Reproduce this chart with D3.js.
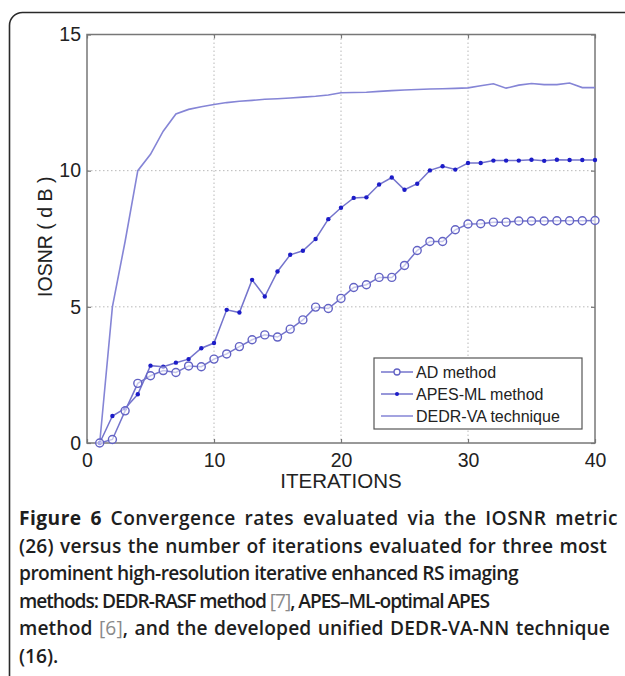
<!DOCTYPE html>
<html>
<head>
<meta charset="utf-8">
<script src="https://cdn.jsdelivr.net/npm/d3@7"></script>
<style>
  body { margin: 0; background: #fff; }
  svg { display: block; }
</style>
</head>
<body>
<div id="chart"></div>
<script>
// Iterations and IOSNR values (dB)
const iterations = [1, 2, 3, 4, 5, 6, 7, 8, 9, 10, 11, 12, 13, 14, 15, 16, 17, 18, 19, 20,
  21, 22, 23, 24, 25, 26, 27, 28, 29, 30, 31, 32, 33, 34, 35, 36, 37, 38, 39, 40];
const adValues = [0.0, 0.13, 1.18, 2.19, 2.47, 2.66, 2.59, 2.83, 2.80, 3.08, 3.27, 3.54, 3.79, 3.97, 3.89, 4.18, 4.52, 4.99, 4.94, 5.31,
  5.71, 5.81, 6.08, 6.08, 6.52, 7.07, 7.40, 7.40, 7.83, 8.04, 8.05, 8.11, 8.11, 8.15, 8.15, 8.15, 8.16, 8.16, 8.16, 8.17];
const apesValues = [0.0, 0.99, 1.27, 1.79, 2.84, 2.80, 2.95, 3.08, 3.48, 3.67, 4.89, 4.79, 5.99, 5.38, 6.30, 6.91, 7.06, 7.49, 8.22, 8.64,
  9.00, 9.02, 9.49, 9.75, 9.30, 9.52, 10.01, 10.16, 10.04, 10.28, 10.28, 10.37, 10.37, 10.37, 10.40, 10.36, 10.40, 10.39, 10.39, 10.39];
const dedrValues = [0.0, 5.0, 7.4, 10.0, 10.6, 11.45, 12.08, 12.25, 12.35, 12.43, 12.5, 12.55, 12.58, 12.62, 12.64, 12.67, 12.7, 12.73, 12.78, 12.86,
  12.87, 12.88, 12.91, 12.94, 12.96, 12.98, 13.0, 13.01, 13.02, 13.04, 13.12, 13.19, 13.03, 13.14, 13.2, 13.16, 13.16, 13.22, 13.05, 13.05];
const seriesNames = ["AD method", "APES-ML method", "DEDR-VA technique"];
const xTicks = [0, 10, 20, 30, 40];
const yTicks = [0, 5, 10, 15];

const width = 625, height = 676;
const margin = {top: 34.5, right: 30, bottom: 233, left: 87};
const plotW = width - margin.left - margin.right;
const plotH = height - margin.top - margin.bottom;

const svg = d3.select("#chart").append("svg")
  .attr("width", width)
  .attr("height", height);

// outer frame of the figure
svg.append("rect")
  .attr("x", 9.5).attr("y", 12.5)
  .attr("width", 640).attr("height", 676)
  .attr("rx", 13)
  .attr("fill", "none")
  .attr("stroke", "#2a2a2a")
  .attr("stroke-width", 1.6);

const g = svg.append("g")
  .attr("transform", "translate(" + margin.left + "," + margin.top + ")");

const x = d3.scaleLinear().domain([0, 40]).range([0, plotW]);
const y = d3.scaleLinear().domain([0, 15]).range([plotH, 0]);

// dotted grid
g.append("g").selectAll("line")
  .data(xTicks.slice(1, -1)).enter().append("line")
  .attr("x1", d => x(d)).attr("x2", d => x(d))
  .attr("y1", 0).attr("y2", plotH)
  .attr("stroke", "#b8b8b8").attr("stroke-dasharray", "1.5,2.5");
g.append("g").selectAll("line")
  .data(yTicks.slice(1, -1)).enter().append("line")
  .attr("y1", d => y(d)).attr("y2", d => y(d))
  .attr("x1", 0).attr("x2", plotW)
  .attr("stroke", "#b8b8b8").attr("stroke-dasharray", "1.5,2.5");

// axes (inward ticks, box around the plot)
const axisColor = "#777";
const xAxis = d3.axisBottom(x).tickValues(xTicks).tickSize(-4).tickPadding(10);
const yAxis = d3.axisLeft(y).tickValues(yTicks).tickSize(-4).tickPadding(6);

g.append("g")
  .attr("transform", "translate(0," + plotH + ")")
  .call(xAxis)
  .call(a => a.select(".domain").remove());
g.append("g")
  .call(yAxis)
  .call(a => a.select(".domain").remove());
g.append("g").call(d3.axisTop(x).tickValues(xTicks).tickSize(-4).tickFormat(""))
  .call(a => a.select(".domain").remove());
g.append("g").attr("transform", "translate(" + plotW + ",0)")
  .call(d3.axisRight(y).tickValues(yTicks).tickSize(-4).tickFormat(""))
  .call(a => a.select(".domain").remove());

g.selectAll(".tick line").attr("stroke", axisColor).attr("stroke-width", 1.2);
g.selectAll(".tick text")
  .attr("fill", "#222")
  .style("font-family", "'Liberation Sans', Arial, sans-serif")
  .style("font-size", "19.5px");

g.append("rect")
  .attr("width", plotW).attr("height", plotH)
  .attr("fill", "none")
  .attr("stroke", axisColor)
  .attr("stroke-width", 1.5);

// axis titles
g.append("text")
  .attr("x", plotW / 2).attr("y", plotH + 45)
  .attr("text-anchor", "middle")
  .attr("fill", "#222")
  .style("font-family", "'Liberation Sans', Arial, sans-serif")
  .style("font-size", "20.5px")
  .text("ITERATIONS");
g.append("text")
  .attr("transform", "translate(-35," + (plotH / 2 - 2) + ") rotate(-90)")
  .attr("text-anchor", "middle")
  .attr("fill", "#222")
  .style("font-family", "'Liberation Sans', Arial, sans-serif")
  .style("font-size", "19.5px")
  .text("IOSNR ( d B )");

// series
const line = d3.line().x((d, i) => x(iterations[i])).y(d => y(d));

g.append("path").datum(dedrValues)
  .attr("d", line)
  .attr("fill", "none").attr("stroke", "#8585d6").attr("stroke-width", 1.6);

g.append("path").datum(apesValues)
  .attr("d", line)
  .attr("fill", "none").attr("stroke", "#7474cc").attr("stroke-width", 1.5);
g.append("g").selectAll("circle")
  .data(apesValues).enter().append("circle")
  .attr("cx", (d, i) => x(iterations[i])).attr("cy", d => y(d))
  .attr("r", 2.2).attr("fill", "#1c1cc8");

g.append("path").datum(adValues)
  .attr("d", line)
  .attr("fill", "none").attr("stroke", "#7474cc").attr("stroke-width", 1.5);
g.append("g").selectAll("circle")
  .data(adValues).enter().append("circle")
  .attr("cx", (d, i) => x(iterations[i])).attr("cy", d => y(d))
  .attr("r", 4).attr("fill", "#fff").attr("fill-opacity", 0.6)
  .attr("stroke", "#6262c4").attr("stroke-width", 1.4);

// legend
const legend = g.append("g").attr("transform", "translate(" + (374 - margin.left) + "," + (358 - margin.top) + ")");
legend.append("rect")
  .attr("width", 208).attr("height", 71)
  .attr("fill", "#fff").attr("stroke", "#555").attr("stroke-width", 1.2);
seriesNames.forEach((name, i) => {
  const ly = 14 + i * 22;
  legend.append("line")
    .attr("x1", 7).attr("x2", 39).attr("y1", ly).attr("y2", ly)
    .attr("stroke", i === 2 ? "#8585d6" : "#7474cc").attr("stroke-width", 1.5);
  if (i === 0) {
    legend.append("circle").attr("cx", 23).attr("cy", ly).attr("r", 3)
      .attr("fill", "#fff").attr("stroke", "#6262c4").attr("stroke-width", 1.3);
  } else if (i === 1) {
    legend.append("circle").attr("cx", 23).attr("cy", ly).attr("r", 2)
      .attr("fill", "#1c1cc8");
  }
  legend.append("text")
    .attr("x", 42).attr("y", ly + 6)
    .attr("fill", "#222")
    .style("font-family", "'Liberation Sans', Arial, sans-serif")
    .style("font-size", "16px")
    .text(name);
});

// caption
const captionLines = [
  [["Figure 6", "b"], [" Convergence rates evaluated via the IOSNR metric", "s"]],
  [["(26) versus the number of iterations evaluated for three most", "s"]],
  [["prominent high-resolution iterative enhanced RS imaging", "s"]],
  [["methods: DEDR-RASF method ", "s"], ["[7]", "r"], [", APES\u2013ML-optimal APES", "s"]],
  [["method ", "s"], ["[6]", "r"], [", and the developed unified DEDR-VA-NN technique", "s"]],
  [["(16)", "s"], [".", "s"]]
];
// widths of the caption lines in the figure (last line left as is)
const captionWidths = [599, 588, 499, 470, 591, null];

const caption = svg.append("g")
  .style("font-family", "'Open Sans', 'Noto Sans', sans-serif")
  .style("font-size", "17px");
const captionTexts = captionLines.map((parts, i) => {
  const t = caption.append("text")
    .attr("x", 19).attr("y", 525 + i * 27.5)
    .attr("fill", "#1e1e1e");
  parts.forEach(p => {
    t.append("tspan")
      .attr("font-weight", p[1] === "b" ? 700 : p[1] === "s" ? 600 : 400)
      .attr("fill", p[1] === "r" ? "#8a8a8a" : "#1e1e1e")
      .text(p[0]);
  });
  return t;
});
// font size from the average line; widen lines with letter + word spacing,
// tighten lines with letter spacing only
const ratio = d3.mean(captionTexts.slice(0, 5), (t, i) => captionWidths[i] / t.node().getComputedTextLength());
caption.style("font-size", (17 * ratio).toFixed(2) + "px");
captionTexts.forEach((t, i) => {
  if (captionWidths[i] == null) return;
  const w = t.node().getComputedTextLength();
  const str = captionLines[i].map(p => p[0]).join("");
  const spaces = str.split(" ").length - 1;
  const gap = captionWidths[i] - w;
  if (gap > 0) {
    t.attr("letter-spacing", (gap * 0.5 / str.length).toFixed(3))
     .attr("word-spacing", (gap * 0.5 / spaces).toFixed(3));
  } else {
    t.attr("letter-spacing", (gap / str.length).toFixed(3));
  }
});
</script>
</body>
</html>
